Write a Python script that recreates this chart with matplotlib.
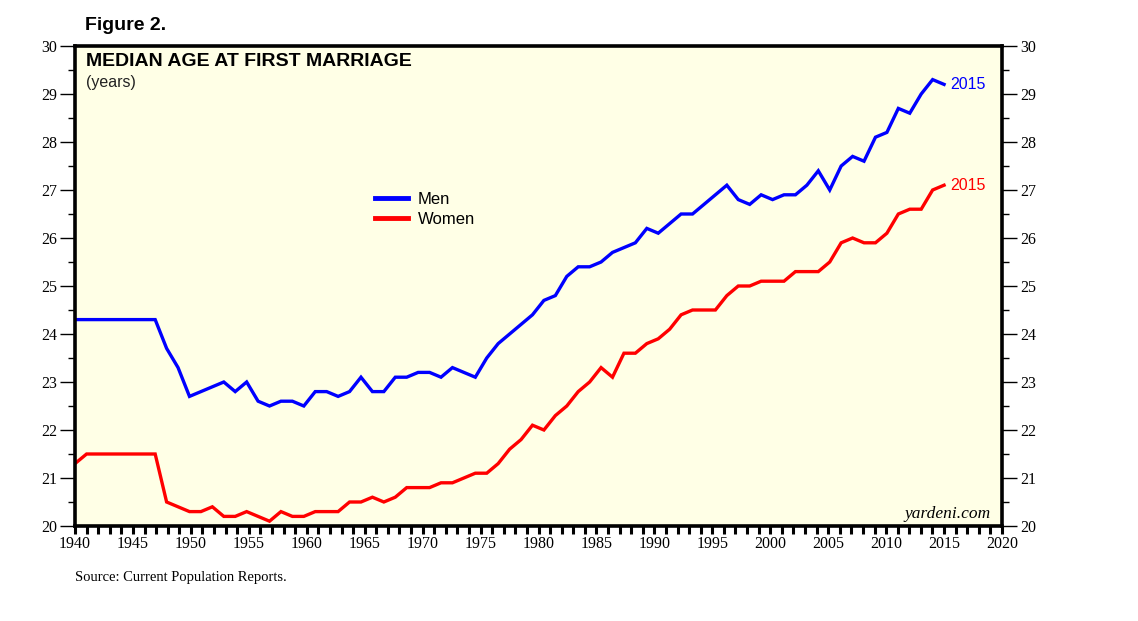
import numpy as np
import matplotlib.pyplot as plt
from matplotlib.ticker import MultipleLocator

# median age at first marriage, Current Population Reports
# first point is the 1930 value, then 1940..1946 carried flat, then annual 1947..2015
men = [24.3,
       24.3, 24.3, 24.3, 24.3, 24.3, 24.3, 24.3,
       23.7, 23.3, 22.7, 22.8, 22.9, 23.0, 22.8, 23.0, 22.6, 22.5,
       22.6, 22.6, 22.5, 22.8, 22.8, 22.7, 22.8, 23.1, 22.8, 22.8,
       23.1, 23.1, 23.2, 23.2, 23.1, 23.3, 23.2, 23.1, 23.5, 23.8,
       24.0, 24.2, 24.4, 24.7, 24.8, 25.2, 25.4, 25.4, 25.5, 25.7,
       25.8, 25.9, 26.2, 26.1, 26.3, 26.5, 26.5, 26.7, 26.9, 27.1,
       26.8, 26.7, 26.9, 26.8, 26.9, 26.9, 27.1, 27.4, 27.0, 27.5,
       27.7, 27.6, 28.1, 28.2, 28.7, 28.6, 29.0, 29.3, 29.2]
women = [21.3,
         21.5, 21.5, 21.5, 21.5, 21.5, 21.5, 21.5,
         20.5, 20.4, 20.3, 20.3, 20.4, 20.2, 20.2, 20.3, 20.2, 20.1,
         20.3, 20.2, 20.2, 20.3, 20.3, 20.3, 20.5, 20.5, 20.6, 20.5,
         20.6, 20.8, 20.8, 20.8, 20.9, 20.9, 21.0, 21.1, 21.1, 21.3,
         21.6, 21.8, 22.1, 22.0, 22.3, 22.5, 22.8, 23.0, 23.3, 23.1,
         23.6, 23.6, 23.8, 23.9, 24.1, 24.4, 24.5, 24.5, 24.5, 24.8,
         25.0, 25.0, 25.1, 25.1, 25.1, 25.3, 25.3, 25.3, 25.5, 25.9,
         26.0, 25.9, 25.9, 26.1, 26.5, 26.6, 26.6, 27.0, 27.1]

# the source places the annual points a bit tighter than a full year apart
dates = np.concatenate([[1940.0], np.linspace(1941, 2015, len(men) - 1)])

bg = '#FFFFE6'
serif = 'Liberation Serif'
sans = 'Liberation Sans'

fig = plt.figure(figsize=(11.38, 6.21), dpi=100)
ax = fig.add_axes([75/1138, 1 - 526/621, (1002 - 75)/1138, (526 - 46)/621])
ax.set_facecolor(bg)

ax.plot(dates, men, color='#0000FF', lw=2.4, solid_joinstyle='miter', label='Men')
ax.plot(dates, women, color='#FF0000', lw=2.4, solid_joinstyle='miter', label='Women')

ax.set_xlim(1940, 2020)
ax.set_ylim(20, 30)

for s in ax.spines.values():
    s.set_linewidth(2.6)

ax.xaxis.set_major_locator(MultipleLocator(5))
ax.xaxis.set_minor_locator(MultipleLocator(1))
ax.yaxis.set_major_locator(MultipleLocator(1))
ax.yaxis.set_minor_locator(MultipleLocator(0.5))
ax.tick_params(axis='x', which='both', direction='out', length=6, width=2.2, pad=1)
ax.tick_params(axis='y', which='major', direction='out', length=11, width=1.0,
               left=True, right=True, labelleft=True, labelright=True, pad=2)
ax.tick_params(axis='y', which='minor', direction='out', length=5, width=1.0,
               left=True, right=True)
for lab in ax.get_xticklabels() + ax.get_yticklabels():
    lab.set_fontfamily(serif)
    lab.set_fontsize(11.5)

ax.text(0.012, 0.985, 'MEDIAN AGE AT FIRST MARRIAGE', transform=ax.transAxes,
        ha='left', va='top', fontsize=14, fontweight='bold', family=sans)
ax.text(0.012, 0.94, '(years)', transform=ax.transAxes,
        ha='left', va='top', fontsize=11.5, family=sans, color='#222222')

ax.text(2015.5, men[-1], '2015', color='#0000FF', fontsize=11.5, family=sans,
        ha='left', va='center')
ax.text(2015.5, women[-1], '2015', color='#FF0000', fontsize=11.5, family=sans,
        ha='left', va='center')

ax.text(0.988, 0.008, 'yardeni.com', transform=ax.transAxes, ha='right', va='bottom',
        fontsize=12.5, style='italic', family=serif)

leg = ax.legend(loc='upper left', bbox_to_anchor=(0.307, 0.728), frameon=False,
                prop={'family': sans, 'size': 12}, handlelength=2.0,
                handletextpad=0.6, labelspacing=0.3)
for h in leg.get_lines():
    h.set_linewidth(3.5)

fig.text(85/1138, 1 - 25/621, 'Figure 2.', ha='left', va='center',
         fontsize=14, fontweight='bold', family=sans)
fig.text(75/1138, 1 - 577/621, 'Source: Current Population Reports.', ha='left',
         va='center', fontsize=10.5, family=serif)

fig.savefig('out.png', dpi=100, facecolor='white')
